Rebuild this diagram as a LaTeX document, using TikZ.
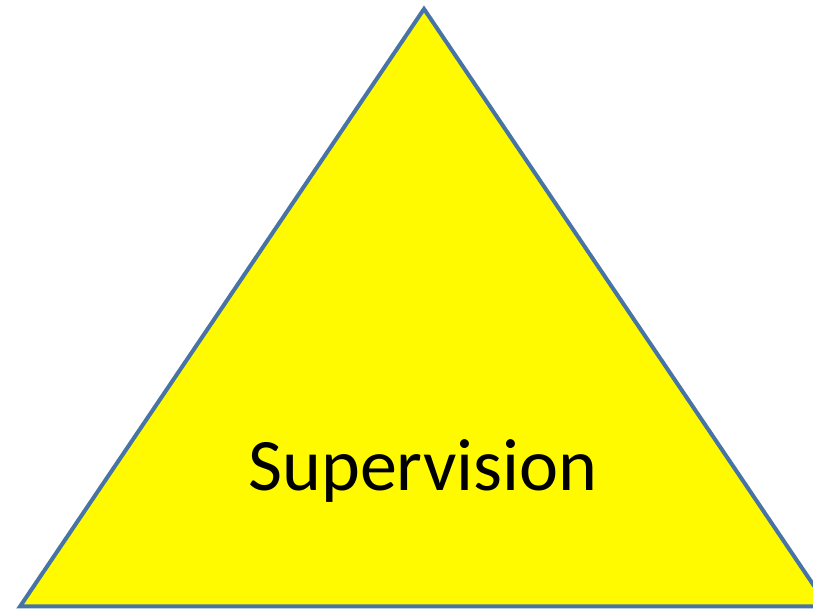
\documentclass[tikz,border=0pt]{standalone}
\usepackage{fontspec}
\setmainfont{Carlito}
\definecolor{edgeblue}{RGB}{72,115,165}
\definecolor{triyellow}{RGB}{255,250,0}
\begin{document}
\begin{tikzpicture}[x=1pt,y=1pt,
  tri/.style={draw=edgeblue,fill=triyellow,line width=4pt,line join=miter},
  lbl/.style={anchor=base,inner sep=0pt,font=\fontsize{74}{80}\selectfont}]
\useasboundingbox (0,0) rectangle (813,609);
\begin{scope}
\clip (0,0) rectangle (813,609);
\coordinate (apex) at (424,600);
\coordinate (bl) at (20,2.5);
\coordinate (br) at (828,2.5);
\draw[tri] (apex) -- (br) -- (bl) -- cycle;
\end{scope}
\node[lbl] (sup) at (423,118) {Supervision};
\end{tikzpicture}
\end{document}
